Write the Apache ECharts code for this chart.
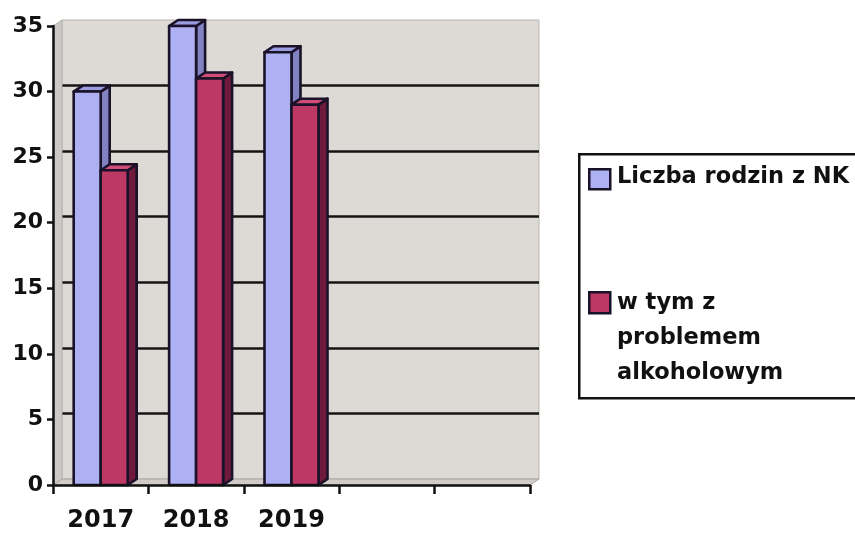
<!DOCTYPE html>
<html>
<head>
<meta charset="utf-8">
<script src="https://cdn.jsdelivr.net/npm/echarts@6/dist/echarts.min.js"></script>
<style>
html,body{margin:0;padding:0;background:#fff;}
#chart{width:855px;height:533px;}
</style>
</head>
<body>
<div id="chart"></div>
<script>
// ---- data ----
const categories = ['2017', '2018', '2019', '', ''];
const seriesNames = ['Liczba rodzin z NK', 'w tym z\nproblemem\nalkoholowym'];
const nkValues = [30, 35, 33];
const alcoValues = [24, 31, 29];
const yMin = 0, yMax = 35, yInterval = 5;

// ---- style ----
const FONT = 'DejaVu Sans';
const DX = 9, DY = -6;          // 3D depth offset
const OUTLINE = '#1a1228';
const palettes = [
  { front: '#adb0f3', top: '#9a9ce0', side: '#8082c2' },
  { front: '#be3866', top: '#cf4d78', side: '#6e1a3c' }
];

const chart = echarts.init(document.getElementById('chart'), null, { renderer: 'canvas' });

function prismRenderer(sIdx) {
  return function (params, api) {
    const cat = api.value(0);
    const val = api.value(1);
    const top = api.coord([cat, val]);
    const base = api.coord([cat, 0]);
    const band = api.size([1, 0])[0];
    const bw = band * 0.283;
    const x0 = sIdx === 0 ? top[0] - bw : top[0];
    const x1 = x0 + bw;
    const yt = top[1], yb = base[1];
    const pal = palettes[sIdx];
    const ls = { stroke: OUTLINE, lineWidth: 2.6, lineJoin: 'round' };
    return {
      type: 'group',
      children: [
        { type: 'polygon', shape: { points: [[x1, yt], [x1 + DX, yt + DY], [x1 + DX, yb + DY], [x1, yb]] },
          style: Object.assign({ fill: pal.side }, ls) },
        { type: 'polygon', shape: { points: [[x0, yt], [x1, yt], [x1 + DX, yt + DY], [x0 + DX, yt + DY]] },
          style: Object.assign({ fill: pal.top }, ls) },
        { type: 'rect', shape: { x: x0, y: yt, width: bw, height: yb - yt },
          style: Object.assign({ fill: pal.front }, ls) }
      ]
    };
  };
}

function decorRenderer(params, api) {
  const cs = params.coordSys;
  const l = cs.x, r = cs.x + cs.width, t = cs.y, b = cs.y + cs.height;
  return {
    type: 'group',
    children: [
      // left side wall
      { type: 'polygon', shape: { points: [[l, b], [l, t], [l + DX, t + DY], [l + DX, b + DY]] },
        style: { fill: '#cbc8c5', stroke: '#b5b2af', lineWidth: 1 } },
      // floor
      { type: 'polygon', shape: { points: [[l, b], [r, b], [r + DX, b + DY], [l + DX, b + DY]] },
        style: { fill: '#cfccca', stroke: '#a9a6a3', lineWidth: 1 } }
    ]
  };
}

const splitColors = [];
for (let v = yMin; v <= yMax; v += yInterval) {
  splitColors.push(v === yMin || v === yMax ? 'rgba(0,0,0,0)' : '#141414');
}

const option = {
  backgroundColor: '#ffffff',
  animation: false,
  grid: [
    { left: 53, right: 325, top: 26, bottom: 48 },
    { left: 62, right: 316, top: 20, bottom: 54, show: true,
      backgroundColor: '#ddd9d5', borderColor: '#b8b5b2', borderWidth: 1 }
  ],
  xAxis: [
    {
      type: 'category', gridIndex: 0, data: categories, z: 5,
      axisLine: { show: true, lineStyle: { color: '#111', width: 2.5 } },
      axisTick: { show: true, length: 9, alignWithLabel: false, lineStyle: { color: '#111', width: 2.5 } },
      axisLabel: { show: true, interval: 0, margin: 24, color: '#111',
        fontFamily: FONT, fontWeight: 'bold', fontSize: 24 },
      splitLine: { show: false }
    },
    {
      type: 'category', gridIndex: 1, data: categories, show: false
    }
  ],
  yAxis: [
    {
      type: 'value', gridIndex: 0, min: yMin, max: yMax, interval: yInterval, z: 5,
      axisLine: { show: true, lineStyle: { color: '#111', width: 2.5 } },
      axisTick: { show: true, length: 6, lineStyle: { color: '#111', width: 2.5 } },
      axisLabel: { show: true, margin: 10, color: '#111',
        fontFamily: FONT, fontWeight: 'bold', fontSize: 22 },
      splitLine: { show: false }
    },
    {
      type: 'value', gridIndex: 1, min: yMin, max: yMax, interval: yInterval,
      axisLine: { show: false }, axisTick: { show: false }, axisLabel: { show: false },
      splitLine: { show: true, lineStyle: { color: splitColors, width: 2.5 } }
    }
  ],
  series: [
    {
      type: 'custom', name: 'decor', xAxisIndex: 0, yAxisIndex: 0, z: 1, silent: true,
      clip: false, renderItem: decorRenderer, data: [[0, 0]]
    },
    {
      type: 'custom', name: seriesNames[0], xAxisIndex: 0, yAxisIndex: 0, z: 3, clip: false,
      renderItem: prismRenderer(0),
      data: nkValues.map((v, i) => [i, v])
    },
    {
      type: 'custom', name: seriesNames[1], xAxisIndex: 0, yAxisIndex: 0, z: 4, clip: false,
      renderItem: prismRenderer(1),
      data: alcoValues.map((v, i) => [i, v])
    }
  ],
  graphic: [
    { type: 'rect', left: 578, top: 153, z: 10,
      shape: { width: 300, height: 244 },
      style: { fill: '#ffffff', stroke: '#111', lineWidth: 2.5 } },
    { type: 'rect', left: 588, top: 168, z: 11,
      shape: { width: 21, height: 20 },
      style: { fill: palettes[0].front, stroke: OUTLINE, lineWidth: 2.5 } },
    { type: 'text', left: 617, top: 164, z: 11,
      style: { text: seriesNames[0], fill: '#111', font: 'bold 22.5px "DejaVu Sans"',
        lineHeight: 27 } },
    { type: 'rect', left: 588, top: 291, z: 11,
      shape: { width: 21, height: 21 },
      style: { fill: palettes[1].front, stroke: OUTLINE, lineWidth: 2.5 } },
    { type: 'text', left: 617, top: 286, z: 11,
      style: { text: seriesNames[1], fill: '#111', font: 'bold 22.5px "DejaVu Sans"',
        lineHeight: 35 } }
  ]
};

chart.setOption(option);
</script>
</body>
</html>
